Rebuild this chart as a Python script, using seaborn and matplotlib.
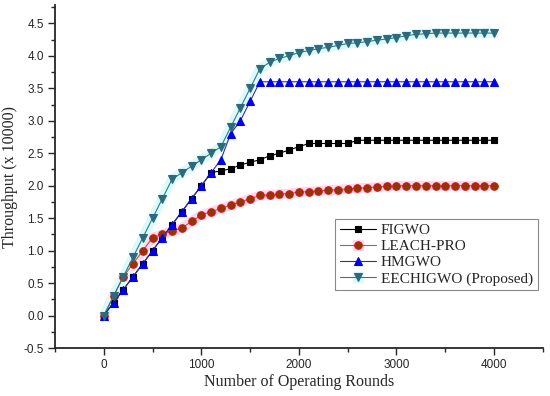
import matplotlib
matplotlib.use("Agg")
import matplotlib.pyplot as plt
from matplotlib.lines import Line2D
from matplotlib.ticker import MultipleLocator, FormatStrFormatter
import numpy as np
import pandas as pd
import seaborn as sns

rounds = list(range(0, 4001, 100))

figwo = [0.0, 0.2, 0.4, 0.6, 0.8, 1.0, 1.2, 1.4, 1.6, 1.8,
         2.0, 2.2, 2.23, 2.26, 2.32, 2.36, 2.4, 2.46, 2.5, 2.55,
         2.6, 2.65, 2.65, 2.65, 2.65, 2.65, 2.7, 2.7, 2.7, 2.7,
         2.7, 2.7, 2.7, 2.7, 2.7, 2.7, 2.7, 2.7, 2.7, 2.7, 2.7]

leach = [0.0, 0.3, 0.6, 0.8, 1.0, 1.2, 1.25, 1.3, 1.35, 1.45,
         1.55, 1.6, 1.65, 1.7, 1.75, 1.8, 1.85, 1.86, 1.87, 1.88,
         1.9, 1.91, 1.92, 1.93, 1.94, 1.95, 1.96, 1.97, 1.98, 1.99,
         2.0, 2.0, 2.0, 2.0, 2.0, 2.0, 2.0, 2.0, 2.0, 2.0, 2.0]

hmgwo = [0.0, 0.2, 0.4, 0.6, 0.8, 1.0, 1.2, 1.4, 1.6, 1.8,
         2.0, 2.2, 2.4, 2.8, 3.0, 3.3, 3.6, 3.6, 3.6, 3.6,
         3.6, 3.6, 3.6, 3.6, 3.6, 3.6, 3.6, 3.6, 3.6, 3.6,
         3.6, 3.6, 3.6, 3.6, 3.6, 3.6, 3.6, 3.6, 3.6, 3.6, 3.6]

eechigwo = [0.0, 0.3, 0.6, 0.9, 1.2, 1.5, 1.8, 2.1, 2.2, 2.3,
            2.4, 2.5, 2.6, 2.9, 3.2, 3.5, 3.8, 3.9, 3.96, 4.0,
            4.05, 4.08, 4.11, 4.13, 4.16, 4.19, 4.2, 4.22, 4.24, 4.26,
            4.28, 4.31, 4.33, 4.34, 4.35, 4.35, 4.35, 4.35, 4.35, 4.35, 4.35]

labels = ["FIGWO", "LEACH-PRO", "HMGWO", "EECHIGWO (Proposed)"]
x_ticks = [0, 1000, 2000, 3000, 4000]

sns.set_style("ticks")
plt.rcParams["font.family"] = ["Liberation Sans", "DejaVu Sans"]

fig = plt.figure(figsize=(5.5, 3.96), dpi=100)
ax = fig.add_axes([0.1, 0.121, 0.887, 0.866])

# glow bands behind two series
sns.lineplot(x=rounds, y=leach, ax=ax, color="#FFD6F0", linewidth=7.0,
             solid_capstyle="butt", zorder=1, legend=False)
sns.lineplot(x=rounds, y=eechigwo, ax=ax, color="#DCFAFA", linewidth=7.0,
             solid_capstyle="butt", zorder=1, legend=False)

styles = [
    dict(data=figwo, marker="s", ms=4.8, mfc="black", mec="black", lc="black"),
    dict(data=leach, marker="o", ms=5.4, mfc="#8B3A06", mec="#DD1111", lc="#B06040"),
    dict(data=hmgwo, marker="^", ms=6.0, mfc="#0000EE", mec="#0000EE", lc="#3030A0"),
    dict(data=eechigwo, marker="v", ms=6.0, mfc="#2F6A7C", mec="#2F6A7C", lc="#2F7C8C"),
]

handles = []
glow_colors = [None, "#FFD6F0", None, "#DCFAFA"]
for lab, st, gc in zip(labels, styles, glow_colors):
    sns.lineplot(x=rounds, y=st["data"], ax=ax, color=st["lc"], linewidth=0.8,
                 marker=st["marker"], markersize=st["ms"],
                 markerfacecolor=st["mfc"], markeredgecolor=st["mec"],
                 markeredgewidth=0.8, zorder=3, legend=False)
    h = Line2D([], [], color=st["lc"], linewidth=0.8, marker=st["marker"],
               markersize=st["ms"], markerfacecolor=st["mfc"],
               markeredgecolor=st["mec"], markeredgewidth=0.8)
    if gc is not None:
        g = Line2D([], [], linestyle="none", marker="s", markersize=7.5,
                   markerfacecolor=gc, markeredgecolor=gc)
        handles.append((g, h))
    else:
        handles.append(h)

ax.set_xlim(-500, 4500)
ax.set_ylim(-0.5, 4.78)
ax.set_xticks(x_ticks)
ax.xaxis.set_minor_locator(MultipleLocator(500))
ax.yaxis.set_major_locator(MultipleLocator(0.5))
ax.yaxis.set_minor_locator(MultipleLocator(0.25))
ax.yaxis.set_major_formatter(FormatStrFormatter("%.1f"))

ax.tick_params(which="major", direction="out", length=5, width=1.0, labelsize=8.5, pad=3)
ax.tick_params(which="minor", direction="out", length=3, width=1.0)
for s in ["top", "right"]:
    ax.spines[s].set_visible(False)
for s in ["left", "bottom"]:
    ax.spines[s].set_linewidth(1.3)

ax.set_xlabel("Number of Operating Rounds", family=["Liberation Serif"], fontsize=11.5, labelpad=2)
ax.set_ylabel("Throughput (x 10000)", family=["Liberation Serif"], fontsize=11.5, labelpad=4)

leg = ax.legend(handles, labels, loc="upper left", bbox_to_anchor=(0.574, 0.376),
                prop={"family": "Liberation Serif", "size": 11},
                frameon=True, fancybox=False, edgecolor="#888888", framealpha=1,
                handlelength=2.4, handletextpad=0.3, borderpad=0.3,
                labelspacing=0.15, borderaxespad=0)
leg.get_frame().set_linewidth(0.8)
leg.set_zorder(5)

fig.savefig("out.png", dpi=100)
